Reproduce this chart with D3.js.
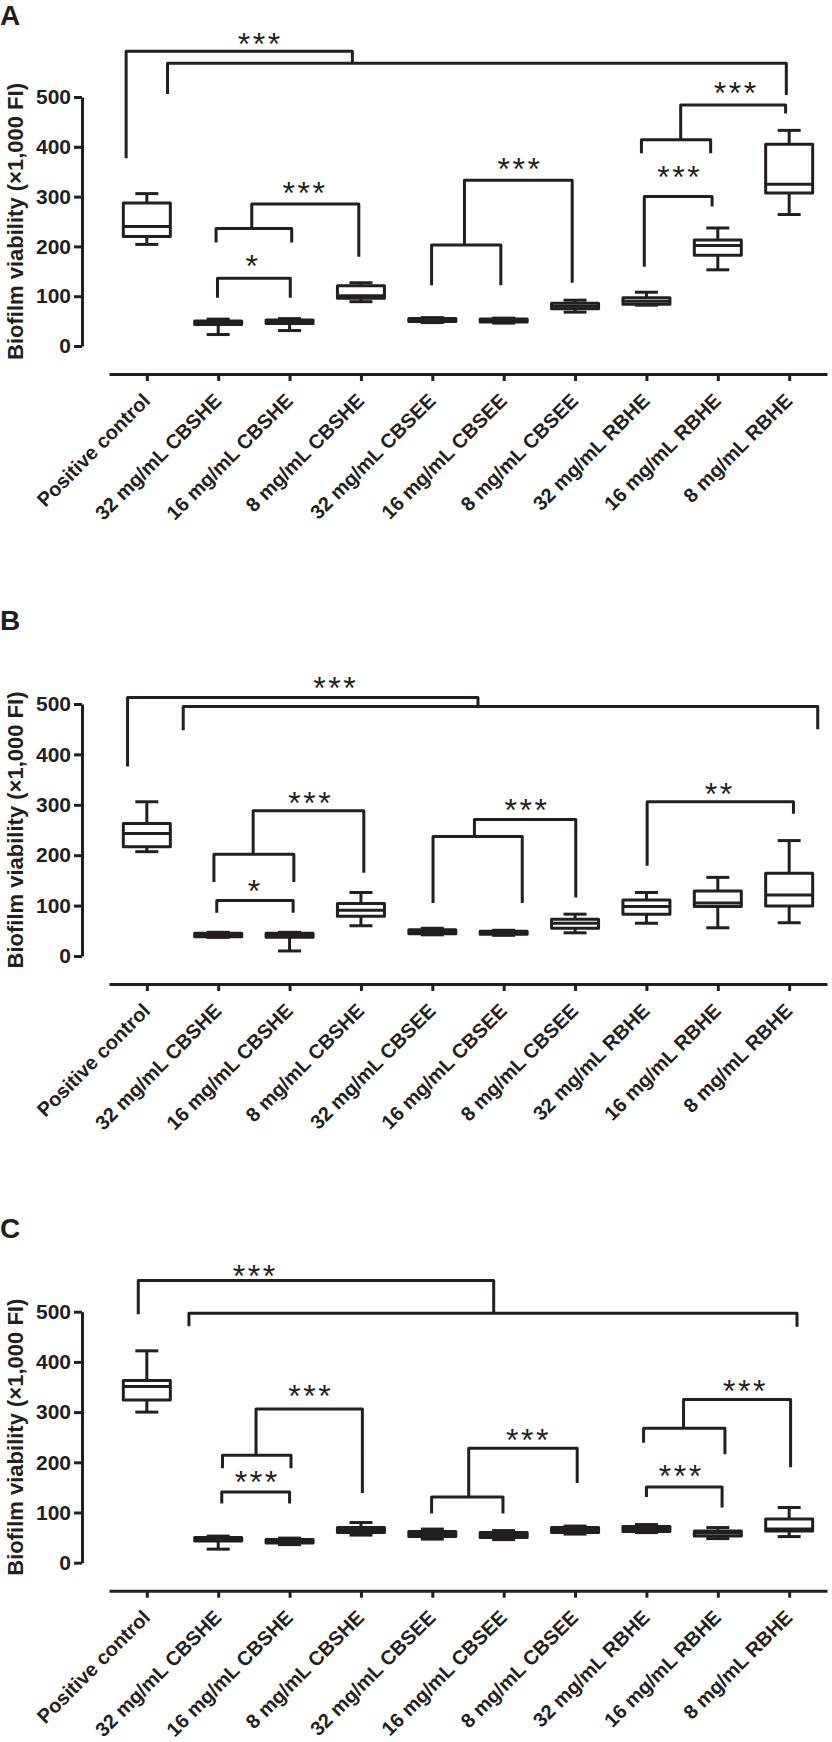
<!DOCTYPE html>
<html>
<head>
<meta charset="utf-8">
<script src="https://cdn.jsdelivr.net/npm/d3@7"></script>
<style>
  body { margin: 0; background: #fff; }
  text { font-family: "Liberation Sans", Arial, Helvetica, sans-serif; fill: #231f20; }
</style>
</head>
<body>
<svg id="chart"></svg>
<script>
const categories = ["Positive control", "32 mg/mL CBSHE", "16 mg/mL CBSHE", "8 mg/mL CBSHE",
  "32 mg/mL CBSEE", "16 mg/mL CBSEE", "8 mg/mL CBSEE", "32 mg/mL RBHE", "16 mg/mL RBHE", "8 mg/mL RBHE"];
const yTicks = [0, 100, 200, 300, 400, 500];
const panelLetters = ["A", "B", "C"];
const yTitle = "Biofilm viability (\u00d71,000 FI)";

// box stats per category: [min, q1, median, q3, max]
const boxesA = [[204, 220, 240, 287, 306], [23, 43, 47, 50, 54], [31, 45, 48, 52, 55], [89, 96, 101, 121, 127],
  [47, 49, 52, 55, 57], [46, 48, 51, 54, 56], [68, 75, 80, 86, 92], [82, 84, 90, 97, 108],
  [153, 182, 202, 213, 237], [264, 307, 325, 405, 433]];
const boxesB = [[207, 217, 243, 263, 306], [37, 38, 42, 45, 47], [10, 37, 41, 45, 47], [60, 79, 91, 104, 126],
  [42, 44, 48, 52, 55], [41, 43, 46, 49, 51], [46, 55, 65, 73, 83], [65, 83, 98, 111, 126],
  [56, 98, 105, 129, 156], [66, 99, 121, 164, 229]];
const boxesC = [[300, 324, 351, 363, 422], [27, 43, 47, 50, 53], [36, 39, 43, 46, 49], [55, 60, 65, 70, 80],
  [47, 52, 57, 62, 67], [46, 50, 55, 60, 64], [57, 60, 65, 70, 73], [60, 62, 68, 72, 76],
  [48, 53, 59, 63, 70], [52, 63, 67, 87, 110]];

// significance brackets: polylines of [category index, value]
const bracketsA = [
  [[-0.29, 377], [-0.29, 592], [2.88, 592], [2.88, 568]],
  [[0.29, 506], [0.29, 568], [8.96, 568], [8.96, 504]],
  [[0.99, 97], [0.99, 136], [2.01, 136], [2.01, 97]],
  [[0.97, 208], [0.97, 236], [2.03, 236], [2.03, 208]],
  [[1.47, 236], [1.47, 285], [2.97, 285], [2.97, 179]],
  [[3.99, 122], [3.99, 203], [4.96, 203], [4.96, 122]],
  [[4.45, 203], [4.45, 333], [5.96, 333], [5.96, 127]],
  [[6.97, 159], [6.97, 300], [7.92, 300], [7.92, 280]],
  [[6.93, 387], [6.93, 414], [7.9, 414], [7.9, 387]],
  [[7.48, 414], [7.48, 484], [8.95, 484], [8.95, 467]]
];
const bracketsB = [
  [[-0.27, 376], [-0.27, 513], [4.64, 513], [4.64, 495]],
  [[0.51, 448], [0.51, 495], [9.4, 495], [9.4, 450]],
  [[0.98, 86], [0.98, 110], [2.05, 110], [2.05, 86]],
  [[0.94, 147], [0.94, 202], [2.06, 202], [2.06, 147]],
  [[1.49, 202], [1.49, 288], [3.04, 288], [3.04, 165]],
  [[4.01, 105], [4.01, 237], [5.26, 237], [5.26, 105]],
  [[4.59, 237], [4.59, 271], [6.01, 271], [6.01, 116]],
  [[7.01, 179], [7.01, 306], [9.06, 306], [9.06, 282]]
];
const bracketsC = [
  [[-0.12, 495], [-0.12, 562], [4.86, 562], [4.86, 497]],
  [[0.59, 471], [0.59, 497], [9.11, 497], [9.11, 470]],
  [[1.05, 118], [1.05, 141], [2.0, 141], [2.0, 118]],
  [[1.06, 188], [1.06, 214], [2.02, 214], [2.02, 188]],
  [[1.53, 214], [1.53, 306], [3.02, 306], [3.02, 139]],
  [[3.99, 98], [3.99, 131], [4.99, 131], [4.99, 98]],
  [[4.51, 131], [4.51, 228], [6.03, 228], [6.03, 159]],
  [[7.0, 131], [7.0, 151], [8.06, 151], [8.06, 110]],
  [[6.96, 239], [6.96, 268], [8.1, 268], [8.1, 216]],
  [[7.52, 268], [7.52, 325], [9.02, 325], [9.02, 190]]
];

// star labels: [category index, value at star centre, text]
const starsA = [[1.57, 622, "***"], [1.47, 175, "*"], [2.2, 323, "***"], [5.21, 371, "***"], [7.45, 355, "***"], [8.24, 523, "***"]];
const starsB = [[2.63, 547, "***"], [1.5, 143, "*"], [2.28, 319, "***"], [5.31, 305, "***"], [8.01, 337, "**"]];
const starsC = [[1.5, 586, "***"], [2.28, 346, "***"], [1.53, 175, "***"], [5.33, 259, "***"], [8.37, 356, "***"], [7.47, 188, "***"]];

const boxSets = [boxesA, boxesB, boxesC];
const bracketSets = [bracketsA, bracketsB, bracketsC];
const starSets = [starsA, starsB, starsC];

// layout (pixels)
const width = 832, height = 1742;
const ink = "#231f20";
const panelTops = [97, 704, 1311.7];     // y of the 500 tick
const panelZeros = [346, 956, 1562.7];   // y of the 0 tick
const letterBaselines = [25, 630, 1238];
const yAxisX = 82;
const xRange = [109, 827];
const xAxisGap = 28;
const boxW = 47, capW = 23, lw = 3;
const starSize = 32, starStep = 15;

const svg = d3.select("#chart").attr("width", width).attr("height", height);
svg.append("rect").attr("width", width).attr("height", height).attr("fill", "#fff");

const x = d3.scalePoint().domain(categories).range(xRange).padding(0.53);
const xi = i => x(categories[0]) + i * x.step();

panelLetters.forEach((letter, p) => {
  const y = d3.scaleLinear().domain([0, 500]).range([panelZeros[p], panelTops[p]]);
  const g = svg.append("g");

  g.append("text")
    .attr("x", 0).attr("y", letterBaselines[p])
    .attr("font-size", 28).attr("font-weight", "bold")
    .text(letter);

  // y axis
  const yAxis = g.append("g")
    .attr("transform", `translate(${yAxisX},0)`)
    .call(d3.axisLeft(y).tickValues(yTicks).tickSize(8).tickSizeOuter(0).tickPadding(3));
  yAxis.select(".domain").attr("stroke", ink).attr("stroke-width", lw);
  yAxis.selectAll(".tick line").attr("stroke", ink).attr("stroke-width", lw);
  yAxis.selectAll(".tick text")
    .attr("font-size", 21).attr("font-weight", "bold").attr("fill", ink)
    .attr("font-family", "'Liberation Sans', Arial, sans-serif");

  g.append("text")
    .attr("transform", `translate(23,${(panelZeros[p] + panelTops[p]) / 2}) rotate(-90)`)
    .attr("text-anchor", "middle")
    .attr("font-size", 22).attr("font-weight", "bold")
    .text(yTitle);

  // x axis, detached below the plot
  const axisY = panelZeros[p] + xAxisGap;
  const xAxis = g.append("g")
    .attr("transform", `translate(0,${axisY})`)
    .call(d3.axisBottom(x).tickSize(7).tickSizeOuter(0));
  xAxis.select(".domain").attr("stroke", ink).attr("stroke-width", lw);
  xAxis.selectAll(".tick line").attr("stroke", ink).attr("stroke-width", lw);
  xAxis.selectAll(".tick text")
    .attr("font-size", 20).attr("font-weight", "bold").attr("fill", ink)
    .attr("font-family", "'Liberation Sans', Arial, sans-serif")
    .attr("text-anchor", "end")
    .attr("dy", null)
    .attr("transform", "translate(4,28) rotate(-45)")
    .attr("x", 0).attr("y", 0);

  // box plots
  const boxes = g.selectAll(".box")
    .data(boxSets[p])
    .join("g")
    .attr("class", "box")
    .attr("transform", (d, i) => `translate(${x(categories[i])},0)`)
    .attr("stroke", ink).attr("stroke-width", lw).attr("fill", "none");

  boxes.append("line")
    .attr("y1", d => y(d[0])).attr("y2", d => y(d[1]));
  boxes.append("line")
    .attr("y1", d => y(d[3])).attr("y2", d => y(d[4]));
  boxes.append("line")
    .attr("x1", -capW / 2).attr("x2", capW / 2)
    .attr("y1", d => y(d[0])).attr("y2", d => y(d[0]));
  boxes.append("line")
    .attr("x1", -capW / 2).attr("x2", capW / 2)
    .attr("y1", d => y(d[4])).attr("y2", d => y(d[4]));
  boxes.append("rect")
    .attr("x", -boxW / 2).attr("width", boxW)
    .attr("y", d => y(d[3]))
    .attr("height", d => y(d[1]) - y(d[3]))
    .attr("fill", "#fff")
    .attr("stroke-linejoin", "round");
  boxes.append("line")
    .attr("x1", -boxW / 2).attr("x2", boxW / 2)
    .attr("y1", d => y(d[2])).attr("y2", d => y(d[2]));

  // brackets
  const line = d3.line().x(d => xi(d[0])).y(d => y(d[1]));
  g.selectAll(".bracket")
    .data(bracketSets[p])
    .join("path")
    .attr("class", "bracket")
    .attr("d", line)
    .attr("fill", "none").attr("stroke", ink).attr("stroke-width", lw)
    .attr("stroke-linejoin", "round");

  // stars
  starSets[p].forEach(s => {
    const n = s[2].length;
    for (let k = 0; k < n; k++) {
      g.append("text")
        .attr("x", xi(s[0]) + (k - (n - 1) / 2) * starStep)
        .attr("y", y(s[1]) + starSize * 0.575)
        .attr("text-anchor", "middle")
        .attr("font-size", starSize)
        .text("*");
    }
  });
});
</script>
</body>
</html>
